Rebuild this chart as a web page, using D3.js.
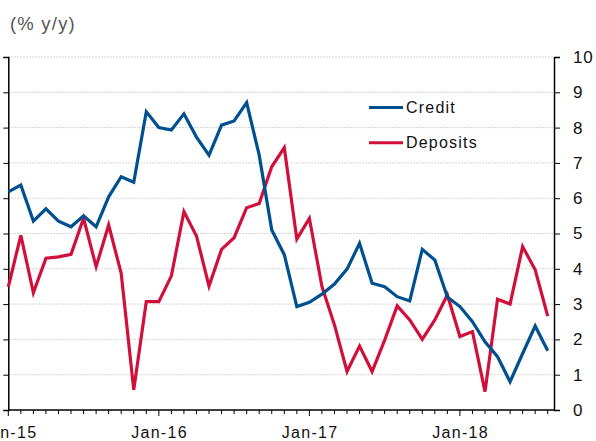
<!DOCTYPE html>
<html>
<head>
<meta charset="utf-8">
<script src="https://cdn.jsdelivr.net/npm/d3@7"></script>
<style>
  body { margin: 0; background: #fff; }
  svg { display: block; font-family: "Liberation Sans", Arial, sans-serif; }
</style>
</head>
<body>
<svg id="chart" width="596" height="441"></svg>
<script>
// monthly, Jan-15 .. Aug-18
let credit = [6.18, 6.37, 5.35, 5.70, 5.35, 5.19, 5.50, 5.19, 6.04, 6.61, 6.45, 8.45,
  8.00, 7.93, 8.39, 7.73, 7.22, 8.07, 8.19, 8.71, 7.22, 5.10, 4.40, 2.93,
  3.05, 3.28, 3.57, 3.99, 4.72, 3.59, 3.49, 3.21, 3.09, 4.55, 4.25, 3.20,
  2.93, 2.50, 1.93, 1.51, 0.80, 1.60, 2.38, 1.68]
let deposits = [3.49, 4.95, 3.32, 4.30, 4.34, 4.41, 5.43, 4.06, 5.24, 3.87, 0.57, 3.07,
  3.07, 3.80, 5.62, 4.93, 3.51, 4.55, 4.88, 5.73, 5.85, 6.89, 7.43, 4.84,
  5.43, 3.50, 2.41, 1.09, 1.81, 1.09, 1.98, 2.95, 2.55, 2.00, 2.55, 3.26,
  2.08, 2.22, 0.52, 3.14, 3.00, 4.63, 3.97, 2.66]
let yearLabels = ["Jan-15", "Jan-16", "Jan-17", "Jan-18"]
let yTicks = [0, 1, 2, 3, 4, 5, 6, 7, 8, 9, 10]
let seriesNames = ["Credit", "Deposits"]

let svg = d3.select("#chart")
let blue = "#00508f"
let red = "#d0103a"

let x = d3.scaleLinear().domain([0, 43.5]).range([8.3, 554])
let y = d3.scaleLinear().domain([0, 10]).range([410, 57])

// grid
svg.append("g")
  .selectAll("line")
  .data(yTicks.filter(d => d > 0))
  .join("line")
  .attr("x1", x(0)).attr("x2", x(43.5))
  .attr("y1", d => y(d)).attr("y2", d => y(d))
  .attr("stroke", "#c8c8c8")
  .attr("stroke-width", 1)
  .attr("stroke-dasharray", "1.5,1.5")

// left axis (labels fall outside the crop)
svg.append("g")
  .attr("transform", "translate(" + x(0) + ",0)")
  .call(d3.axisLeft(y).tickValues(yTicks).tickSize(5).tickFormat(""))
  .call(g => g.select(".domain").attr("stroke-width", 1.5))

// right axis
let right = svg.append("g")
  .attr("transform", "translate(" + x(43.5) + ",0)")
  .call(d3.axisRight(y).tickValues(yTicks).tickSize(6).tickPadding(13))
right.select(".domain").attr("stroke-width", 1.5)
right.selectAll("text")
  .attr("font-size", 17)
  .attr("letter-spacing", 0.8)
  .attr("fill", "#111")
  .attr("font-family", "Liberation Sans, Arial, sans-serif")

// bottom axis
let months = d3.range(0, 44)
let bottom = svg.append("g")
  .attr("transform", "translate(0," + y(0) + ")")
bottom.append("line")
  .attr("x1", x(0)).attr("x2", x(43.5))
  .attr("stroke", "#000").attr("stroke-width", 1.5)
bottom.selectAll(".tick")
  .data(months)
  .join("line")
  .attr("x1", d => x(d)).attr("x2", d => x(d))
  .attr("y1", 0).attr("y2", d => d % 12 == 0 ? 6 : 4)
  .attr("stroke", "#000").attr("stroke-width", 1)
bottom.selectAll(".lbl")
  .data(yearLabels)
  .join("text")
  .attr("x", (d, i) => x(i * 12) + 0.7)
  .attr("y", 28)
  .attr("text-anchor", "middle")
  .attr("font-size", 16)
  .attr("letter-spacing", 1.3)
  .attr("fill", "#111")
  .text(d => d)

// unit label
svg.append("text")
  .attr("x", 10).attr("y", 30)
  .attr("font-size", 18.5)
  .attr("letter-spacing", 1.2)
  .attr("fill", "#555")
  .text("(% y/y)")

// lines
let line = d3.line()
  .x((d, i) => x(i))
  .y(d => y(d))

svg.append("path")
  .datum(deposits)
  .attr("d", line)
  .attr("fill", "none")
  .attr("stroke", red)
  .attr("stroke-width", 3.2)
  .attr("stroke-linejoin", "miter")

svg.append("path")
  .datum(credit)
  .attr("d", line)
  .attr("fill", "none")
  .attr("stroke", blue)
  .attr("stroke-width", 3.2)
  .attr("stroke-linejoin", "miter")

// legend
let legend = svg.append("g")
legend.selectAll("line")
  .data(seriesNames)
  .join("line")
  .attr("x1", 369).attr("x2", 403)
  .attr("y1", (d, i) => 107.5 + i * 35.2)
  .attr("y2", (d, i) => 107.5 + i * 35.2)
  .attr("stroke", (d, i) => i == 0 ? blue : red)
  .attr("stroke-width", 3)
legend.selectAll("text")
  .data(seriesNames)
  .join("text")
  .attr("x", 406)
  .attr("y", (d, i) => 107.5 + i * 35.2)
  .attr("dy", "0.36em")
  .attr("font-size", 16)
  .attr("letter-spacing", 1.2)
  .attr("fill", "#111")
  .text(d => d)
</script>
</body>
</html>
